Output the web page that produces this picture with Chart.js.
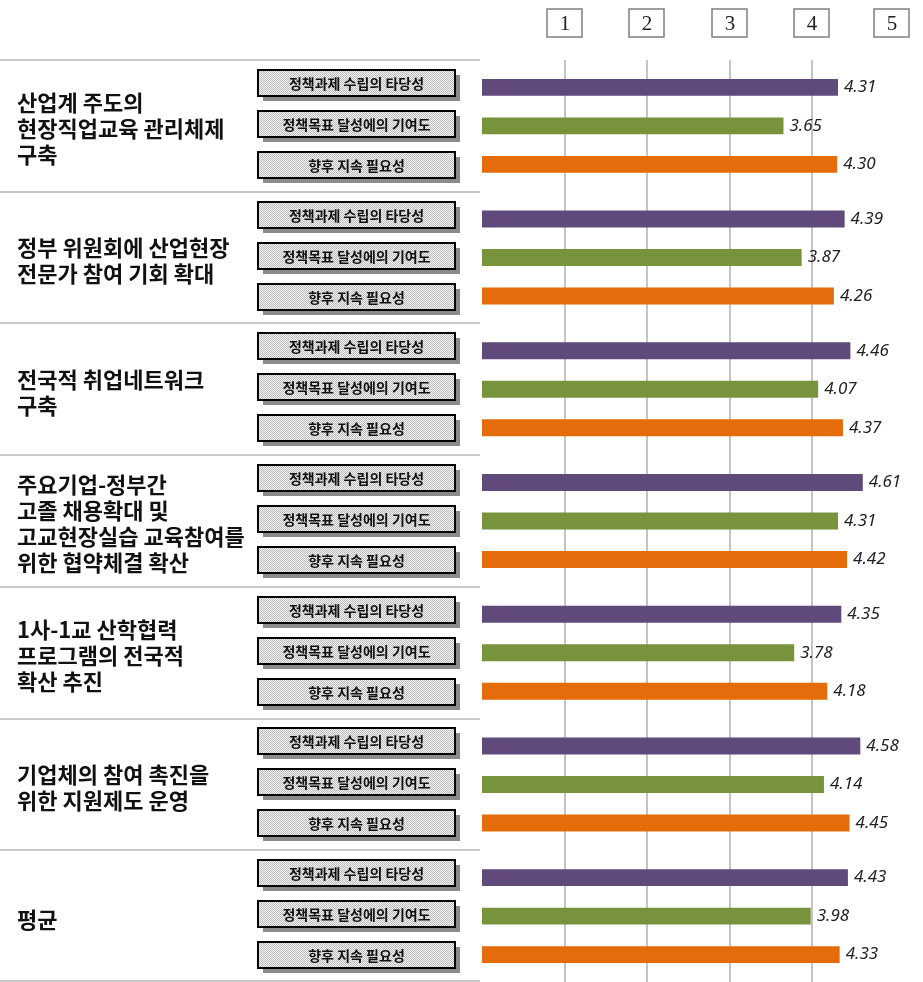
<!DOCTYPE html>
<html>
<head>
<meta charset="utf-8">
<script src="https://cdn.jsdelivr.net/npm/chart.js@4"></script>
<style>
  html, body { margin: 0; padding: 0; background: #ffffff; }
  #wrap { width: 923px; height: 982px; }
</style>
</head>
<body>
<div id="wrap"><canvas id="evalChart" width="923" height="982"></canvas></div>
<script>
// 과제별 항목
var groups = [
    ['산업계 주도의', '현장직업교육 관리체제', '구축'],
    ['정부 위원회에 산업현장', '전문가 참여 기회 확대'],
    ['전국적 취업네트워크', '구축'],
    ['주요기업-정부간', '고졸 채용확대 및', '고교현장실습 교육참여를', '위한 협약체결 확산'],
    ['1사-1교 산학협력', '프로그램의 전국적', '확산 추진'],
    ['기업체의 참여 촉진을', '위한 지원제도 운영'],
    ['평균']
];
var criteria = ['정책과제 수립의 타당성', '정책목표 달성에의 기여도', '향후 지속 필요성'];

// 평가 점수
var validity = [4.31, 4.39, 4.46, 4.61, 4.35, 4.58, 4.43];
var contribution = [3.65, 3.87, 4.07, 4.31, 3.78, 4.14, 3.98];
var continuation = [4.30, 4.26, 4.37, 4.42, 4.18, 4.45, 4.33];

// 척도 눈금
var scaleTicks = [1, 2, 3, 4, 5];

var barColors = ['#604A7B', '#77933C', '#E46C0A'];

document.addEventListener('DOMContentLoaded', function () {
    // 회색 격자 무늬 (라벨 상자 배경)
    var pc = document.createElement('canvas');
    pc.width = 2; pc.height = 2;
    var pctx = pc.getContext('2d');
    pctx.fillStyle = '#f2f2f2'; pctx.fillRect(0, 0, 2, 2);
    pctx.fillStyle = '#bcbcbc'; pctx.fillRect(0, 0, 1, 1); pctx.fillRect(1, 1, 1, 1);

    var ctx = document.getElementById('evalChart').getContext('2d');
    var hatch = ctx.createPattern(pc, 'repeat');

    var decorations = {
        id: 'decorations',
        beforeDatasetsDraw: function (chart) {
            var c = chart.ctx;
            var area = chart.chartArea;
            var x = chart.scales.x;
            var y = chart.scales.y;
            c.save();

            // 세로 눈금선 (1~4)
            c.strokeStyle = '#c4c4c4';
            c.lineWidth = 2;
            scaleTicks.forEach(function (t) {
                if (t >= 5) return;
                var px = Math.round(x.getPixelForValue(t));
                c.beginPath();
                c.moveTo(px, area.top);
                c.lineTo(px, area.bottom);
                c.stroke();
            });

            // 상단 척도 상자
            c.font = '21px "Liberation Serif", "DejaVu Serif", serif';
            c.textAlign = 'center';
            c.textBaseline = 'middle';
            scaleTicks.forEach(function (t) {
                var px = Math.round(x.getPixelForValue(t));
                if (t === 5) px -= 3;
                c.fillStyle = '#ffffff';
                c.fillRect(px - 18, 9, 35, 28);
                c.strokeStyle = '#7f7f7f';
                c.lineWidth = 1.5;
                c.strokeRect(px - 18, 9, 35, 28);
                c.fillStyle = '#222222';
                c.fillText(String(t), px, 24);
            });

            // 과제 구분선
            c.strokeStyle = '#c8c8c8';
            c.lineWidth = 2;
            var bounds = [area.top];
            for (var i = 0; i < groups.length - 1; i++) {
                bounds.push((y.getPixelForValue(i) + y.getPixelForValue(i + 1)) / 2);
            }
            bounds.push(area.bottom - 1);
            bounds.forEach(function (b) {
                c.beginPath();
                c.moveTo(0, Math.round(b));
                c.lineTo(480, Math.round(b));
                c.stroke();
            });

            // 과제명
            c.font = 'bold 22px "Noto Sans CJK KR", sans-serif';
            c.textAlign = 'left';
            c.fillStyle = '#111111';
            groups.forEach(function (lines, i) {
                var cy = y.getPixelForValue(i) + 3;
                var lh = 26;
                var start = cy - (lines.length - 1) * lh / 2;
                lines.forEach(function (ln, j) {
                    c.fillText(ln, 17, start + j * lh);
                });
            });

            // 평가 항목 상자
            c.font = 'bold 14px "Noto Sans CJK KR", sans-serif';
            c.textAlign = 'center';
            groups.forEach(function (lines, i) {
                var cy = y.getPixelForValue(i);
                criteria.forEach(function (label, k) {
                    var by = Math.round(cy + (k - 1) * 41 - 2);
                    var bx = 258, bw = 197, bh = 26;
                    c.fillStyle = '#8a8a8a';
                    c.fillRect(bx + 5, by - bh / 2 + 5, bw, bh);
                    c.fillStyle = hatch;
                    c.fillRect(bx, by - bh / 2, bw, bh);
                    c.strokeStyle = '#000000';
                    c.lineWidth = 2;
                    c.strokeRect(bx, by - bh / 2, bw, bh);
                    c.fillStyle = '#111111';
                    c.fillText(label, bx + bw / 2, by + 1);
                });
            });
            c.restore();
        },
        afterDatasetsDraw: function (chart) {
            var c = chart.ctx;
            c.save();
            c.font = 'italic 17px "Noto Sans", sans-serif';
            c.fillStyle = '#222222';
            c.textAlign = 'left';
            c.textBaseline = 'middle';
            chart.data.datasets.forEach(function (ds, di) {
                chart.getDatasetMeta(di).data.forEach(function (bar, i) {
                    c.fillText(ds.data[i].toFixed(2), bar.x + 6, bar.y);
                });
            });
            c.restore();
        }
    };

    var evalChart = new Chart(ctx, {
        type: 'bar',
        data: {
            labels: groups,
            datasets: [
                { label: criteria[0], data: validity, backgroundColor: barColors[0] },
                { label: criteria[1], data: contribution, backgroundColor: barColors[1] },
                { label: criteria[2], data: continuation, backgroundColor: barColors[2] }
            ]
        },
        options: {
            indexAxis: 'y',
            responsive: false,
            animation: false,
            categoryPercentage: 0.877,
            barPercentage: 0.44,
            layout: {
                padding: { left: 482, right: 28, top: 60, bottom: 0 }
            },
            plugins: {
                legend: { display: false },
                tooltip: { enabled: false }
            },
            scales: {
                x: {
                    display: false,
                    min: 0,
                    max: 5
                },
                y: {
                    display: false
                }
            }
        },
        plugins: [decorations]
    });
});
</script>
</body>
</html>
